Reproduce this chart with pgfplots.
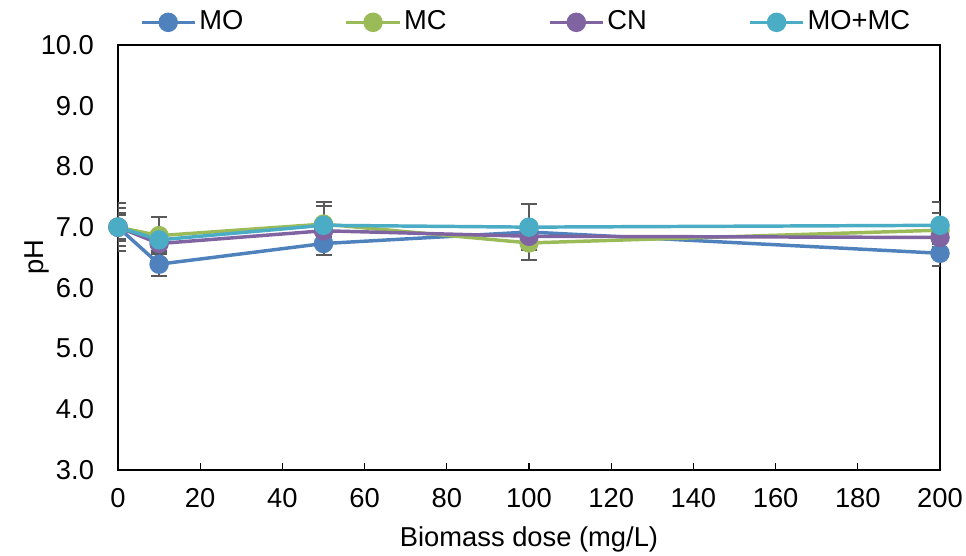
\documentclass[border=0pt]{standalone}
\usepackage{pgfplots}
\pgfplotsset{compat=1.18}
\usepackage{fontspec}
\setmainfont{Liberation Sans}
\definecolor{cMO}{HTML}{4F81BD}
\definecolor{cMC}{HTML}{9BBB59}
\definecolor{cCN}{HTML}{8064A2}
\definecolor{cMM}{HTML}{4BACC6}
\definecolor{errc}{HTML}{595959}
\begin{document}
\fontsize{20.5}{24}\selectfont
\begin{tikzpicture}
\useasboundingbox (-88.5pt,-64.5pt) rectangle (636pt,352.5pt);
\begin{axis}[
  scale only axis,
  width=616.5pt, height=318.75pt,
  xmin=0, xmax=200, ymin=3, ymax=10,
  xtick={0,20,...,200},
  ytick={3,4,...,10},
  /pgf/number format/assume math mode=true,
  tick label style={font=\fontsize{20.5}{24}\selectfont},
  xticklabel style={yshift=-7pt},
  yticklabel style={xshift=-11pt, /pgf/number format/.cd,fixed,fixed zerofill,precision=1},
  label style={font=\fontsize{20.5}{24}\selectfont},
  axis line style={line width=1.5pt},
  tick style={line width=1pt, black},
  tick align=inside,
  xtick pos=bottom, ytick pos=left,
  major tick length=5pt,
  ytick style={draw=none},
  xlabel={Biomass dose (mg/L)},
  ylabel={pH},
  xlabel style={yshift=0pt},
  ylabel style={yshift=-20pt},
  every axis plot/.append style={line width=2.6pt, mark=*, mark size=6pt,
     mark options={solid}},
  error bars/y dir=both, error bars/y explicit,
  error bars/error bar style={line width=1.5pt, errc},
  error bars/error mark options={rotate=90, mark size=6pt, line width=1.5pt, errc},
  legend columns=4,
  legend style={draw=none, fill=none, at={(0.5,1)}, anchor=center,
     xshift=-2pt, yshift=17pt, font=\fontsize{20.5}{24}\selectfont,
     /tikz/every even column/.append style={column sep=74pt}},
  legend cell align=left,
  legend image code/.code={
     \draw[#1, line width=2.6pt] (0pt,0pt) -- (40pt,0pt);
     \draw[#1, mark size=6pt] plot coordinates {(20pt,0pt)};
  },
]
\addplot[color=cMO] coordinates {
 (0,7.00) +- (0,0.40)
 (10,6.39) +- (0,0.20)
 (50,6.73) +- (0,0.19)
 (100,6.92) +- (0,0.10)
 (200,6.57) +- (0,0.21)
};
\addlegendentry{MO}
\addplot[color=cMC] coordinates {
 (0,7.00) +- (0,0.31)
 (10,6.86) +- (0,0.30)
 (50,7.05) +- (0,0.36)
 (100,6.74) +- (0,0.28)
 (200,6.95) +- (0,0.28)
};
\addlegendentry{MC}
\addplot[color=cCN] coordinates {
 (0,7.00) +- (0,0.23)
 (10,6.73) +- (0,0.12)
 (50,6.94) +- (0,0.10)
 (100,6.85) +- (0,0.10)
 (200,6.83) +- (0,0.10)
};
\addlegendentry{CN}
\addplot[color=cMM] coordinates {
 (0,7.00) +- (0,0.20)
 (10,6.79) +- (0,0.14)
 (50,7.03) +- (0,0.32)
 (100,7.00) +- (0,0.38)
 (200,7.03) +- (0,0.38)
};
\addlegendentry{MO+MC}
\end{axis}
\end{tikzpicture}
\end{document}
